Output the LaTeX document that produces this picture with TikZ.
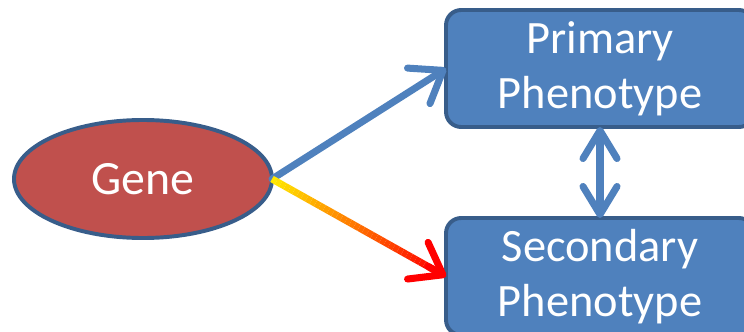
\documentclass[tikz,border=0pt]{standalone}
\usepackage{fontspec}
\setmainfont{Carlito}
\usetikzlibrary{arrows.meta,calc,shapes.geometric}
\definecolor{boxblue}{HTML}{4F81BD}
\definecolor{edgeblue}{HTML}{385D8A}
\definecolor{genered}{HTML}{C0504D}
\definecolor{barbyellow}{HTML}{FFE800}

\begin{document}
\begin{tikzpicture}[>={Straight Barb[length=0.72cm,width=1.05cm,round]},
  phenobox/.style={draw=edgeblue, line width=2.8pt, fill=boxblue, rounded corners=0.38cm,
    minimum width=7.7cm, minimum height=2.925cm, text=white, align=center,
    font=\fontsize{33}{39}\selectfont, inner sep=0pt, outer sep=0pt},
  link/.style={line width=5pt, line cap=round}]
\useasboundingbox (0,0) rectangle (18.6,8.275);

% gene
\node[ellipse, draw=edgeblue, line width=2.8pt, fill=genered, minimum width=6.45cm,
  minimum height=2.95cm, inner sep=0pt, outer sep=0pt, text=white,
  font=\fontsize{34}{39}\selectfont] (gene) at (3.575,3.8) {Gene};

% phenotypes
\node[phenobox] (primary) at (15.0,6.5625) {Primary\\Phenotype};
\node[phenobox] (secondary) at (15.0,1.3625) {Secondary\\Phenotype};

% gene to primary
\draw[link, boxblue, ->] (gene.east) -- (primary.west);

% gene to secondary, yellow into red
\foreach \i in {0,...,37} {
  \pgfmathtruncatemacro\redpart{100*\i/37}
  \draw[line width=5pt, red!\redpart!barbyellow]
    ($(gene.east)!\i/40!(secondary.west)$) -- ($(gene.east)!{(\i+1)/40}!(secondary.west)$);
}
\draw[link, red, ->] ($(gene.east)!0.9!(secondary.west)$) -- (secondary.west);

% between phenotypes
\draw[link, boxblue, {Straight Barb[length=0.7cm,width=0.85cm,round]}-{Straight Barb[length=0.7cm,width=0.85cm,round]}]
  (primary.south) -- (secondary.north);
\end{tikzpicture}
\end{document}
